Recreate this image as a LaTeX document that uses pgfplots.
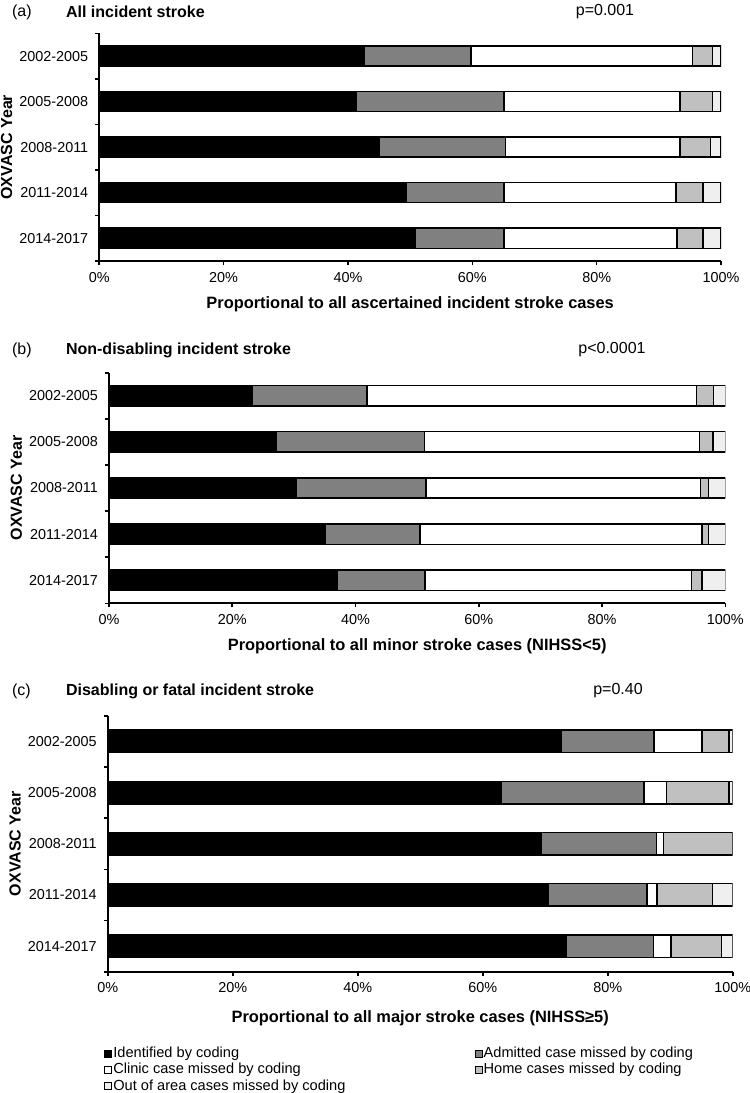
\documentclass[border=0pt]{standalone}
\usepackage{fontspec}
\setmainfont{Liberation Sans}
\usepackage{pgfplots}
\usepackage{pgfplotstable}
\pgfplotsset{compat=1.18}

\definecolor{dgray}{HTML}{808080}
\definecolor{lgray}{HTML}{C0C0C0}
\definecolor{vlgray}{HTML}{EFEFEF}

% y: 5 = 2002-2005 (top) ... 1 = 2014-2017 (bottom); values in percent
\pgfplotstableread{
y id adm clin home out
5 42.6 17.2 35.6 3.2 1.4
4 41.4 23.7 28.3 5.2 1.4
3 45.0 20.3 28.1 4.9 1.7
2 49.4 15.7 27.7 4.3 2.9
1 50.8 14.3 27.8 4.2 2.9
}\allstroke

\pgfplotstableread{
y id adm clin home out
5 23.3 18.6 53.4 2.8 1.9
4 27.2 24.0 44.6 2.2 2.0
3 30.4 21.0 44.6 1.3 2.7
2 35.1 15.4 45.7 1.1 2.7
1 37.1 14.2 43.2 1.7 3.8
}\minorstroke

\pgfplotstableread{
y id adm clin home out
5 72.6 14.8 7.7 4.3 0.6
4 62.9 22.9 3.6 10.0 0.6
3 69.4 18.4 1.1 11.1 0.0
2 70.5 15.8 1.6 8.9 3.2
1 73.3 14.0 2.8 8.1 1.8
}\majorstroke

\pgfplotsset{
  panel/.style={
    scale only axis,
    xbar stacked,
    bar width=0.44,
    xmin=0, xmax=100, ymin=0.5, ymax=5.5,
    axis lines*=left,
    axis line style={line width=1pt},
    tick align=outside,
    major tick length=2pt, minor tick length=2pt,
    xtick={0,20,...,100},
    xticklabels={0\%,20\%,40\%,60\%,80\%,100\%},
    ytick={1,...,5},
    yticklabels={2014-2017,2011-2014,2008-2011,2005-2008,2002-2005},
    minor ytick={0.5,1.5,...,5.5},
    major y tick style={draw=none},
    tick style={black, line width=0.8pt},
    tick label style={font=\fontsize{7.2}{8}\selectfont},
    label style={font=\fontsize{8}{9.6}\selectfont\bfseries},
    ylabel={OXVASC Year},
    ylabel style={anchor=south, inner sep=0pt},
    xlabel style={at={(axis description cs:0.5,0)}, anchor=center, yshift=-21.5pt,
      font=\fontsize{8.2}{9.6}\selectfont\bfseries},
    every axis plot/.append style={draw=black, line width=0.75pt,
      /pgfplots/legend image code/.code={\draw[##1, line width=0.4pt] (0pt,-1.75pt) rectangle (3.5pt,1.75pt);}},
  },
}

\begin{document}
\begin{tikzpicture}
\useasboundingbox (0,0) rectangle (375pt,-546.5pt);

% (a)
\begin{axis}[panel, at={(49.65pt,-130.5pt)}, anchor=south west,
  width=310.85pt, height=113.85pt,
  xlabel={Proportional to all ascertained incident stroke cases}]
\addplot[fill=black] table[x=id, y=y] {\allstroke};
\addplot[fill=dgray] table[x=adm, y=y] {\allstroke};
\addplot[fill=white] table[x=clin, y=y] {\allstroke};
\addplot[fill=lgray] table[x=home, y=y] {\allstroke};
\addplot[fill=vlgray] table[x=out, y=y] {\allstroke};
\end{axis}
\node[anchor=west, font=\fontsize{8}{9.6}\selectfont] at (2.5pt,-6pt) {(a)};
\node[anchor=west, font=\fontsize{8}{9.6}\selectfont\bfseries] at (29.5pt,-6pt) {All incident stroke};
\node[font=\fontsize{8}{9.6}\selectfont] at (302.5pt,-6pt) {p=0.001};

% (b)
\begin{axis}[panel, at={(54.5pt,-301.65pt)}, anchor=south west,
  width=308.15pt, height=115.3pt,
  xlabel={Proportional to all minor stroke cases (NIHSS<5)}]
\addplot[fill=black] table[x=id, y=y] {\minorstroke};
\addplot[fill=dgray] table[x=adm, y=y] {\minorstroke};
\addplot[fill=white] table[x=clin, y=y] {\minorstroke};
\addplot[fill=lgray] table[x=home, y=y] {\minorstroke};
\addplot[fill=vlgray] table[x=out, y=y] {\minorstroke};
\end{axis}
\node[anchor=west, font=\fontsize{8}{9.6}\selectfont] at (2.5pt,-175pt) {(b)};
\node[anchor=west, font=\fontsize{8}{9.6}\selectfont\bfseries] at (29.5pt,-175pt) {Non-disabling incident stroke};
\node[font=\fontsize{8}{9.6}\selectfont] at (306pt,-175pt) {p<0.0001};

% (c)
\begin{axis}[panel, at={(53.85pt,-485.85pt)}, anchor=south west,
  width=312.5pt, height=128pt,
  xlabel={Proportional to all major stroke cases (NIHSS≥5)},
  xlabel style={yshift=-2pt},
  legend columns=2,
  legend cell align=left,
  legend style={at={(axis description cs:-0.006,-0.286)}, anchor=north west,
    draw=none, fill=none, inner sep=0pt,
    font=\fontsize{7.3}{8}\selectfont,
    nodes={inner sep=0.6pt, text height=5.6pt, text depth=1.3pt},
    /tikz/every even column/.append style={column sep=64pt}}]
\addplot[fill=black] table[x=id, y=y] {\majorstroke};
\addplot[fill=dgray] table[x=adm, y=y] {\majorstroke};
\addplot[fill=white] table[x=clin, y=y] {\majorstroke};
\addplot[fill=lgray] table[x=home, y=y] {\majorstroke};
\addplot[fill=vlgray] table[x=out, y=y] {\majorstroke};
\legend{Identified by coding, Admitted case missed by coding,
  Clinic case missed by coding, Home cases missed by coding,
  Out of area cases missed by coding}
\end{axis}
\node[anchor=west, font=\fontsize{8}{9.6}\selectfont] at (2.5pt,-345.5pt) {(c)};
\node[anchor=west, font=\fontsize{8}{9.6}\selectfont\bfseries] at (29.5pt,-345.5pt) {Disabling or fatal incident stroke};
\node[font=\fontsize{8}{9.6}\selectfont] at (309pt,-345.5pt) {p=0.40};
\end{tikzpicture}
\end{document}
